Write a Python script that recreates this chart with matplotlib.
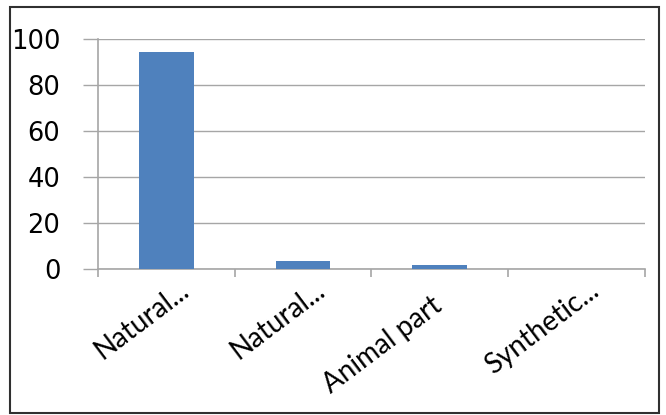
import matplotlib
matplotlib.use("Agg")
import matplotlib.pyplot as plt
import matplotlib.transforms as mtransforms
from matplotlib.patches import Rectangle
import numpy as np

categories = ["Natural...", "Natural...", "Animal part", "Synthetic..."]
values = [94, 3.5, 1.8, 0]
y_ticks = [0, 20, 40, 60, 80, 100]

fig = plt.figure(figsize=(6.66, 4.15), dpi=100)
ax = fig.add_axes([0.147, 0.352, 0.8215, 0.555])

x = np.arange(len(categories))
ax.bar(x, values, width=0.4, color="#4F81BD", zorder=3)

ax.set_xlim(-0.5, len(categories) - 0.5)
ax.set_ylim(0, 100)
ax.set_yticks(y_ticks)
ax.set_yticklabels([str(v) for v in y_ticks], fontsize=18.5, family="DejaVu Sans")
ax.yaxis.grid(True, color="#a6a6a6", linewidth=1.0, zorder=0)

# category ticks sit on the boundaries between categories
ax.set_xticks(np.arange(len(categories) + 1) - 0.5)
ax.set_xticklabels([])
ax.tick_params(axis="x", length=6, width=1.2, color="#a6a6a6", direction="out")
ax.tick_params(axis="y", length=11, width=1.0, color="#a6a6a6", pad=16)

# untruncated labels sit a little further down their slant than the
# truncated ones, whose ellipsis overflows the label box
angle = 37
for i, name in enumerate(categories):
    shift = 0 if name.endswith("...") else -25  # pixels along the slant
    dx = shift * np.cos(np.radians(angle)) * 0.72
    dy = shift * np.sin(np.radians(angle)) * 0.72
    trans = mtransforms.offset_copy(ax.transData, fig=fig, x=dx, y=dy,
                                    units="points")
    ax.text(i + 0.084, -3.5, name, rotation=angle, ha="right", va="top",
            rotation_mode="anchor", fontsize=20, family="Lato",
            transform=trans)

for side in ("top", "right"):
    ax.spines[side].set_visible(False)
ax.spines["left"].set_color("#a6a6a6")
ax.spines["bottom"].set_color("#a6a6a6")
ax.spines["left"].set_linewidth(1.2)
ax.spines["bottom"].set_linewidth(1.2)

# outer frame around the chart
fig.patches.append(Rectangle((10 / 666, 2 / 415), 649 / 666, 406 / 415,
                             transform=fig.transFigure, fill=False,
                             edgecolor="#303030", linewidth=1.5))

fig.savefig("out.png", dpi=100)
